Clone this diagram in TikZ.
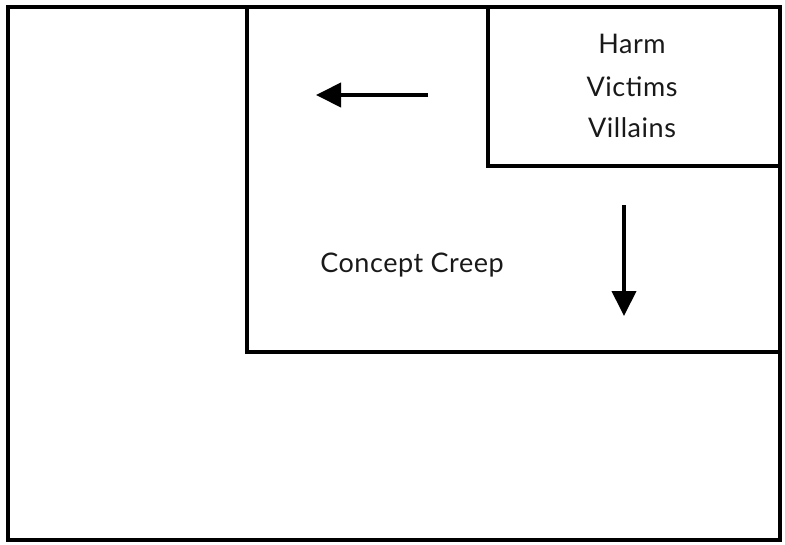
\documentclass[tikz,border=0pt]{standalone}
\usepackage{fontspec}
\setmainfont{Lato}
\usetikzlibrary{arrows.meta}
\begin{document}
\begin{tikzpicture}[x=1pt,y=-1pt,
  box/.style={draw=black,line width=4.5pt,fill=none},
  lbl/.style={font=\fontsize{27}{30}\selectfont\addfontfeatures{LetterSpace=2},text=black!90,inner sep=0pt},
  arr/.style={line width=4pt,-{Triangle[length=25pt,width=24pt]}}]
\useasboundingbox (0,0) rectangle (785,544);
\draw[box] (8,7) rectangle (780,540);
\draw[box] (247,7) rectangle (780,352);
\draw[box] (488,7) rectangle (780,166);
\node[lbl] (harm) at (632,44) {Harm};
\node[lbl] (victims) at (632,87) {Victims};
\node[lbl] (villains) at (632,128) {Villains};
\node[lbl] (creep) at (412,265) {Concept Creep};
\coordinate (la) at (428,95);
\coordinate (lb) at (316,95);
\coordinate (da) at (624,205);
\coordinate (db) at (624,316);
\draw[arr] (la) -- (lb);
\draw[arr] (da) -- (db);
\end{tikzpicture}
\end{document}
